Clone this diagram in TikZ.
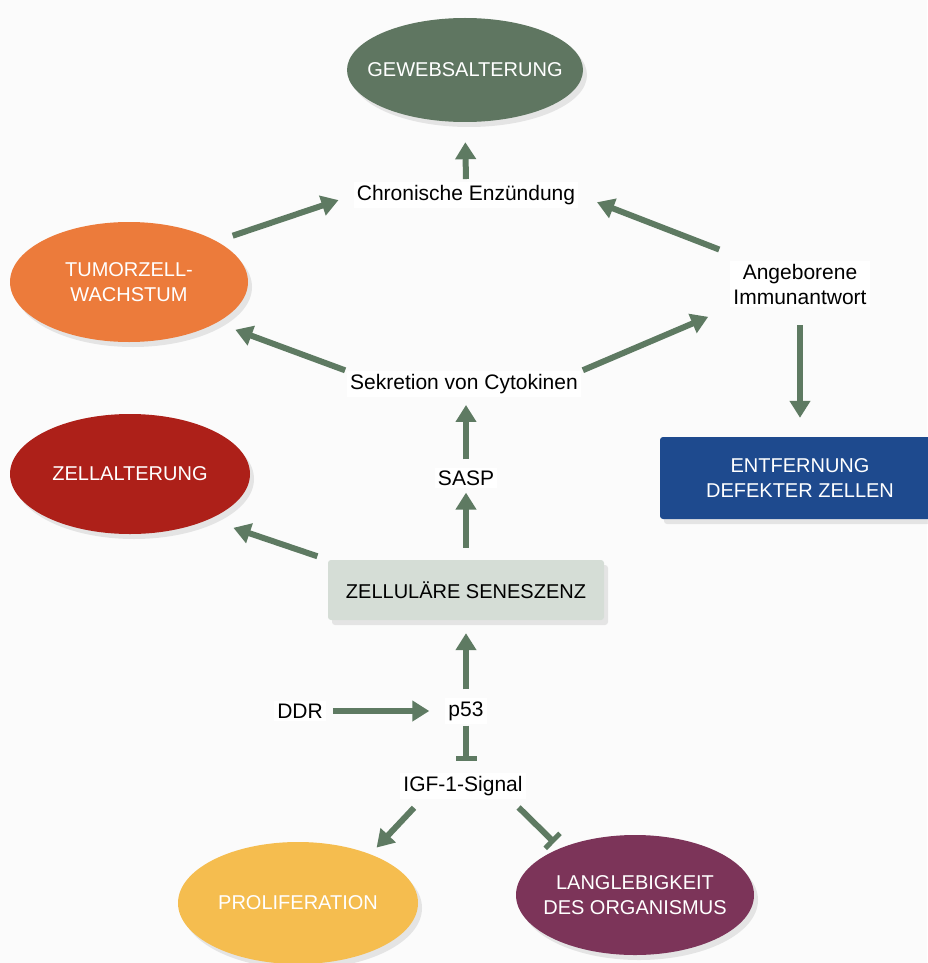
\documentclass[tikz,border=0pt]{standalone}
\usepackage{fontspec}
\setmainfont{Liberation Sans}
\usetikzlibrary{arrows.meta,shapes.geometric,shadows,calc}
\definecolor{arr}{HTML}{5E7A62}
\definecolor{cgew}{HTML}{5F7661}
\definecolor{ctum}{HTML}{EC7B3B}
\definecolor{czell}{HTML}{AD2019}
\definecolor{cprol}{HTML}{F5BD4F}
\definecolor{clang}{HTML}{7C3459}
\definecolor{csen}{HTML}{D5DDD6}
\definecolor{cent}{HTML}{1E4A8E}
\definecolor{bg}{HTML}{FBFBFB}
\begin{document}
\begin{tikzpicture}[x=1pt,y=-1pt,
  font=\fontsize{20}{25}\selectfont,
  shad/.style={drop shadow={opacity=0.18,shadow xshift=4pt,shadow yshift=-5pt}},
  ell/.style={ellipse,minimum width=240pt,minimum height=120pt,inner sep=0pt,shad,
              label={[text=white,align=center]center:#1}},
  lab/.style={fill=white,align=center,inner sep=3pt,font=\fontsize{21}{25}\selectfont},
  arw/.style={draw=arr,line width=6pt,-{Triangle[width=20pt,length=17pt]}},
  inh/.style={draw=arr,line width=6pt,-{Bar[width=21pt,line width=5pt]}}]
\fill[bg] (0,0) rectangle (927,963);
\useasboundingbox (0,0) rectangle (927,963);

% nodes
\node[ell={GEWEBSALTERUNG},fill=cgew,minimum width=236pt,minimum height=104pt] (gew) at (465,70) {};
\node[lab] (chron) at (466,195) {Chronische Enzündung};
\node[ell={TUMORZELL-\\WACHSTUM},fill=ctum,minimum width=238pt] (tum) at (129,282) {};
\node[lab] (ang) at (800,284) {Angeborene\\Immunantwort};
\node[lab] (sek) at (464,384) {Sekretion von Cytokinen};
\node[fill=cent,text=white,align=center,rounded corners=3pt,minimum width=280pt,
      minimum height=82pt,inner sep=0pt,shad] (ent) at (800,478) {ENTFERNUNG\\DEFEKTER ZELLEN};
\node[lab] (sasp) at (466,478) {SASP};
\node[ell={ZELLALTERUNG},fill=czell] (zell) at (130,474) {};
\node[fill=csen,rounded corners=3pt,minimum width=276pt,minimum height=60pt,
      inner sep=0pt,shad] (sen) at (466,590) {ZELLULÄRE SENESZENZ};
\node[lab] (ddr) at (300,711) {DDR};
\node[lab] (p53) at (466,711) {p53};
\node[lab] (igf) at (463,786) {IGF-1-Signal};
\node[ell={PROLIFERATION},fill=cprol,minimum height=122pt] (prol) at (298,903) {};
\node[ell={LANGLEBIGKEIT\\DES ORGANISMUS},fill=clang,minimum width=238pt] (lang) at (635,895) {};

% connectors
\draw[arw,shorten <=3pt,shorten >=20pt] (chron.north) -- (gew.south);
\draw[arw,shorten <=17pt,shorten >=16pt] (tum.25) -- (chron.west);
\draw[arw,shorten <=14pt,shorten >=20pt] ($(ang.north west)+(2,-6)$) -- (chron.east);
\draw[arw,shorten <=2pt,shorten >=20pt] (sek.north west) -- (tum.-25);
\draw[arw,shorten <=2pt,shorten >=24pt] (sek.north east) -- (ang.south west);
\draw[arw,shorten <=18pt,shorten >=19pt] (ang.south) -- (ent.north);
\draw[arw,shorten <=8pt,shorten >=8pt] (sasp.north) -- (sasp.north |- sek.south);
\draw[arw,shorten <=12pt,shorten >=4pt] (sen.north) -- (sasp.south);
\draw[arw,shorten <=11pt,shorten >=26pt] (sen.north west) -- (zell.-30);
\draw[arw,shorten <=9pt,shorten >=13pt] (p53.north) -- (sen.south);
\draw[arw,shorten <=7pt,shorten >=16pt] (ddr.east) -- (p53.west);
\draw[inh,shorten <=2pt,shorten >=12pt] (p53.south) -- (p53.south |- igf.north);
\draw[arw,shorten <=12pt,shorten >=9pt] ($(igf.south)!0.65!(igf.south west)$) -- (prol.34);
\draw[inh,shorten <=12pt,shorten >=8pt] ($(igf.south)!0.75!(igf.south east)$) -- (lang.148);
\end{tikzpicture}
\end{document}
